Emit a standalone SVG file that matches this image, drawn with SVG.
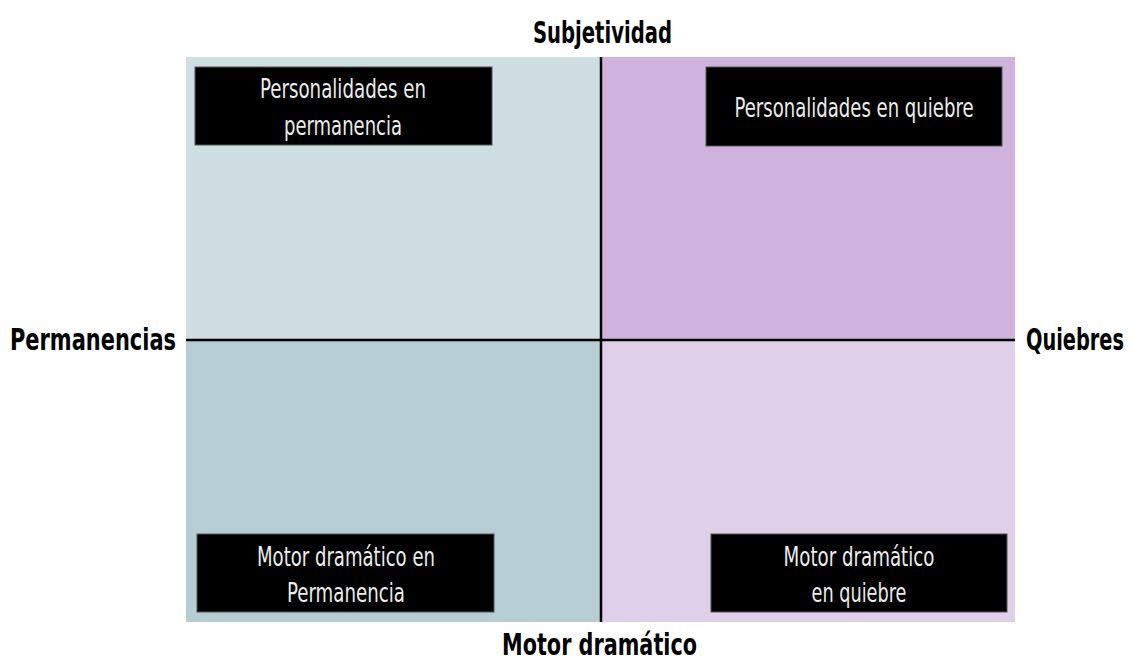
<svg xmlns="http://www.w3.org/2000/svg" width="1133" height="661" viewBox="0 0 1133 661">
<style>
.box{fill:#000;stroke:#555;stroke-width:1}
.bt{font-family:"DejaVu Sans Condensed","Liberation Sans",sans-serif;font-size:27px;fill:#ececec;text-anchor:middle}
.ax{font-family:"DejaVu Sans Condensed","Liberation Sans",sans-serif;font-weight:bold;font-size:30px;fill:#000}
.axis{stroke:#000;stroke-width:2.5}
</style>
<rect width="1133" height="661" fill="#fff"/>
<g id="quadrants">
<rect x="186" y="57" width="415" height="283" fill="#cfdee3"/>
<rect x="601" y="57" width="414" height="283" fill="#cfb3dc"/>
<rect x="186" y="340" width="415" height="282" fill="#b5cdd3"/>
<rect x="601" y="340" width="414" height="282" fill="#dfcfe8"/>
</g>
<g id="connectors">
<line class="axis" x1="601" y1="57" x2="601" y2="622"/>
<line class="axis" x1="186" y1="340" x2="1015" y2="340"/>
</g>
<g id="node-tl">
<rect class="box" x="195" y="67" width="297" height="78"/>
<text class="bt" x="343" y="98" textLength="166" lengthAdjust="spacingAndGlyphs">Personalidades en</text>
<text class="bt" x="343" y="135" textLength="118" lengthAdjust="spacingAndGlyphs">permanencia</text>
</g>
<g id="node-tr">
<rect class="box" x="706" y="67" width="296" height="79"/>
<text class="bt" x="854" y="117" textLength="239" lengthAdjust="spacingAndGlyphs">Personalidades en quiebre</text>
</g>
<g id="node-bl">
<rect class="box" x="197" y="534" width="297" height="78"/>
<text class="bt" x="346" y="566" textLength="178" lengthAdjust="spacingAndGlyphs">Motor dramático en</text>
<text class="bt" x="346" y="602" textLength="118" lengthAdjust="spacingAndGlyphs">Permanencia</text>
</g>
<g id="node-br">
<rect class="box" x="711" y="534" width="296" height="78"/>
<text class="bt" x="859" y="566" textLength="151" lengthAdjust="spacingAndGlyphs">Motor dramático</text>
<text class="bt" x="859" y="602" textLength="95" lengthAdjust="spacingAndGlyphs">en quiebre</text>
</g>
<g id="label-top"><text class="ax" x="533" y="43" textLength="139" lengthAdjust="spacingAndGlyphs">Subjetividad</text></g>
<g id="label-left"><text class="ax" x="10" y="350" textLength="166" lengthAdjust="spacingAndGlyphs">Permanencias</text></g>
<g id="label-right"><text class="ax" x="1026" y="350" font-size="29" textLength="98" lengthAdjust="spacingAndGlyphs">Quiebres</text></g>
<g id="label-bottom"><text class="ax" x="502" y="655" textLength="195" lengthAdjust="spacingAndGlyphs" font-size="28">Motor dramático</text></g>
</svg>
